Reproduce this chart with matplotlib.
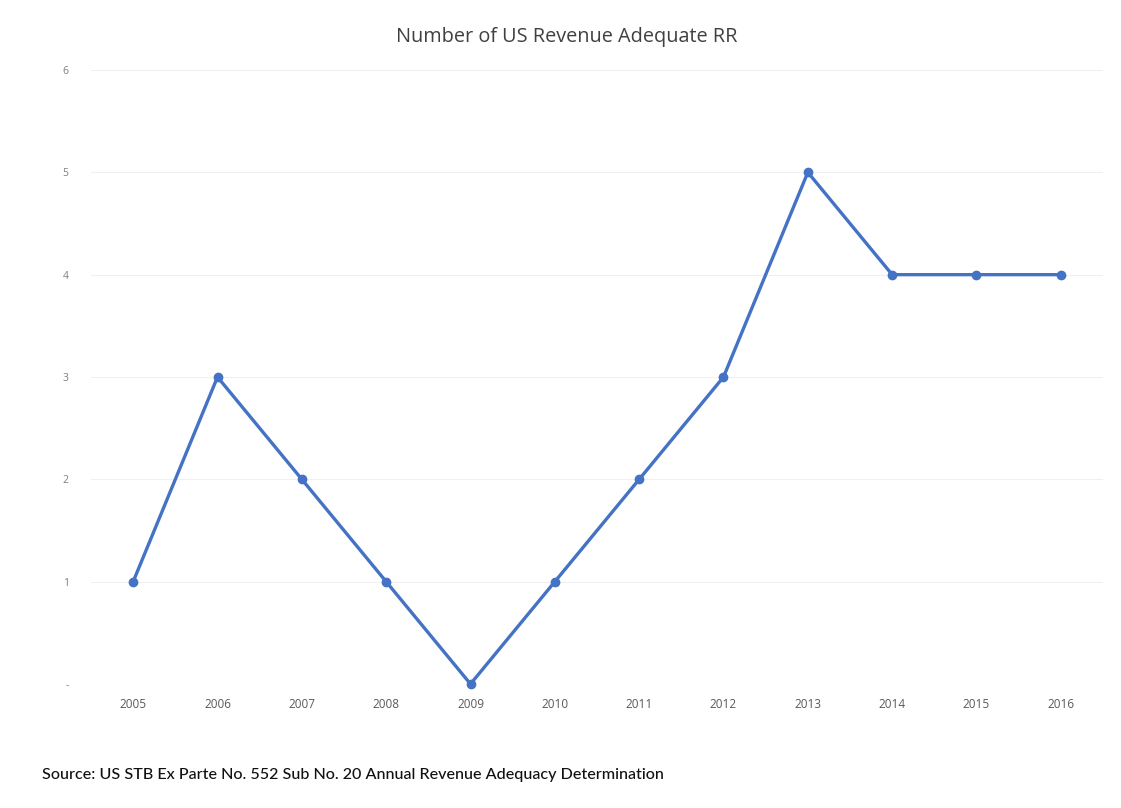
import matplotlib
matplotlib.use("Agg")
import matplotlib.pyplot as plt

years = ["2005", "2006", "2007", "2008", "2009", "2010", "2011", "2012", "2013", "2014", "2015", "2016"]
counts = [1, 3, 2, 1, 0, 1, 2, 3, 5, 4, 4, 4]
yticks = [0, 1, 2, 3, 4, 5, 6]
ytick_labels = ["-", "1", "2", "3", "4", "5", "6"]

fig = plt.figure(figsize=(11.21, 8.08), dpi=100)
ax = fig.add_axes([91/1121, 1-684/808, (1103-91)/1121, (684-70)/808])

x = list(range(len(years)))
ax.plot(x, counts, color="#4472C4", linewidth=2.4, marker="o", markersize=6, zorder=3, clip_on=False)

ax.set_xlim(-0.5, len(years) - 0.5)
ax.set_ylim(0, 6)
ax.set_xticks(x)
ax.set_xticklabels(years, fontsize=8.5, color="#595959", family="Open Sans")
ax.set_yticks(yticks)
ax.set_yticklabels(ytick_labels, fontsize=7.5, color="#7f7f7f", family="Open Sans")
ax.tick_params(axis="both", length=0)
ax.tick_params(axis="x", pad=10)
ax.tick_params(axis="y", pad=16)
ax.grid(axis="y", color="#f0f0f0", linewidth=0.8)
for s in ax.spines.values():
    s.set_visible(False)
ax.set_axisbelow(True)

fig.text(567/1121, 1 - 37/808, "Number of US Revenue Adequate RR", ha="center", va="center",
         fontsize=14.3, color="#404040", family="Open Sans")
fig.text(42/1121, 1 - 775/808, "Source: US STB Ex Parte No. 552 Sub No. 20 Annual Revenue Adequacy Determination",
         ha="left", va="center", fontsize=11.6, color="#111111", family="Lato", weight="medium")

fig.savefig("out.png", dpi=100)
